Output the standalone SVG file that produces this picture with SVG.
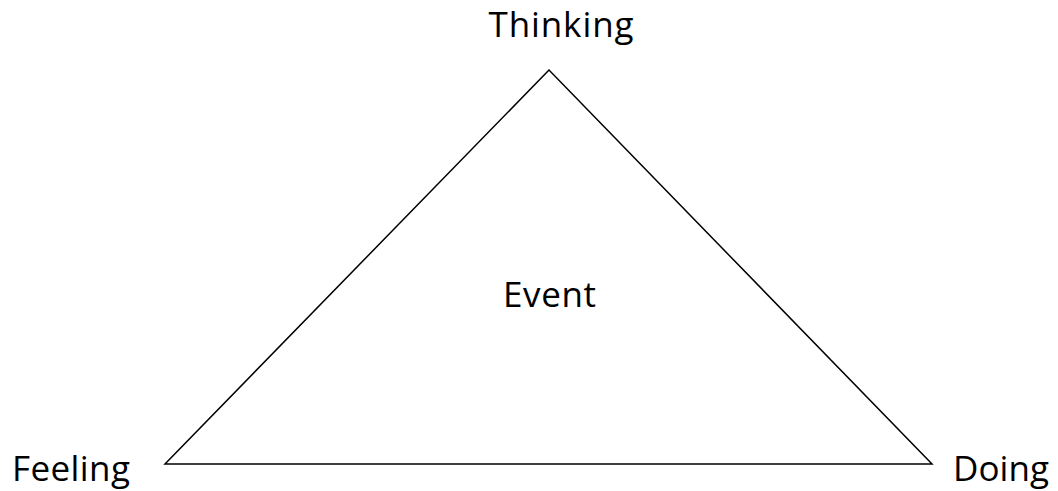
<svg xmlns="http://www.w3.org/2000/svg" width="1058" height="491" viewBox="0 0 1058 491">
<style>
text{font-family:"Open Sans","Liberation Sans",sans-serif;font-size:35px;fill:#000}
.tri{fill:none;stroke:#000;stroke-width:1.5}
</style>
<rect width="1058" height="491" fill="#fff"/>
<g id="connectors">
<polygon class="tri" points="549,70 165,464 932,464"/>
</g>
<g id="thinking"><text x="561" y="37" text-anchor="middle" textLength="145">Thinking</text></g>
<g id="event"><text x="549.5" y="307" text-anchor="middle" textLength="93">Event</text></g>
<g id="feeling"><text x="12" y="481" textLength="118">Feeling</text></g>
<g id="doing"><text x="953" y="481" textLength="96">Doing</text></g>
</svg>
